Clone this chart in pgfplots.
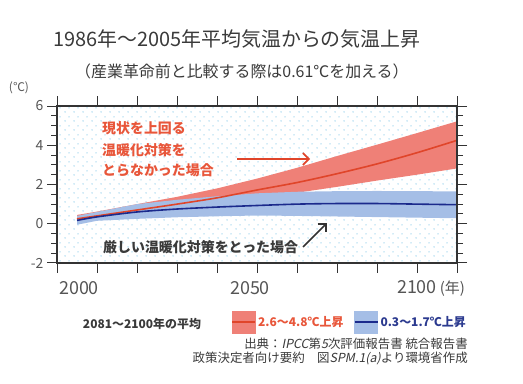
\documentclass[border=0pt]{standalone}
\usepackage{fontspec}
\setmainfont{Noto Sans CJK JP}
\newfontfamily\cjkit{Noto Sans CJK JP}[FakeSlant=0.2]
\usepackage{pgfplots}
\pgfplotsset{compat=1.18}
\usepgfplotslibrary{fillbetween}
\usetikzlibrary{patterns,arrows.meta}

\definecolor{redband}{HTML}{EF8077}
\definecolor{redline}{HTML}{E0452A}
\definecolor{blueband}{HTML}{A5BEE6}
\definecolor{blueline}{HTML}{1B2A8C}
\definecolor{redtext}{HTML}{E8563A}
\definecolor{bluetext}{HTML}{2B3A8F}
\definecolor{graytext}{HTML}{3A3A3A}
\definecolor{ticktext}{HTML}{555555}
\definecolor{axiscol}{HTML}{333333}
\definecolor{dotblue}{HTML}{A6D6EE}

\pgfdeclarepatternformonly{mydots}{\pgfpointorigin}{\pgfpoint{9bp}{9bp}}{\pgfpoint{9bp}{9bp}}{%
  \pgfpathcircle{\pgfpoint{2.25bp}{2.25bp}}{0.85bp}%
  \pgfpathcircle{\pgfpoint{6.75bp}{6.75bp}}{0.85bp}%
  \pgfusepath{fill}}

\pgfplotstableread{
year mean top bot
2005 0.25 0.45 0.05
2010 0.40 0.62 0.22
2020 0.70 1.00 0.45
2030 1.00 1.37 0.74
2040 1.32 1.80 1.00
2050 1.72 2.30 1.30
2060 2.10 2.85 1.58
2070 2.55 3.45 1.88
2080 3.05 4.03 2.20
2090 3.62 4.62 2.50
2100 4.25 5.22 2.82
}\rcpeight

\pgfplotstableread{
year mean top bot
2005 0.17 0.40 -0.05
2010 0.35 0.60 0.15
2020 0.60 1.00 0.25
2030 0.75 1.22 0.33
2040 0.85 1.40 0.38
2050 0.93 1.55 0.42
2060 1.00 1.63 0.40
2070 1.03 1.66 0.37
2080 1.03 1.67 0.34
2090 1.00 1.66 0.31
2100 0.97 1.65 0.28
}\rcptwo

\begin{document}
\begin{tikzpicture}
\path (0,0) rectangle (523bp,384bp);

\begin{axis}[
  scale only axis,
  width=400bp, height=157bp,
  at={(57bp,121bp)}, anchor=south west,
  xmin=2000, xmax=2100, ymin=-2, ymax=6,
  xtick={2000,2010,...,2100}, xticklabels={},
  ytick={-2,0,...,6}, minor y tick num=3,
  tick align=outside,
  major tick length=10bp, minor tick length=6bp,
  tick style={color=axiscol, line width=1bp},
  axis line style={axiscol, line width=1.2bp},
  /pgf/number format/assume math mode=true,
  yticklabel style={font=\fontsize{14}{14}\selectfont, text=ticktext},
  axis on top,
  axis background/.style={pattern=mydots, pattern color=dotblue},
  legend columns=2,
  legend style={draw=none, fill=none, at={(axis description cs:0.4275,-0.376)}, anchor=west,
    font=\bfseries\fontsize{12}{12}\selectfont,
    /tikz/every even column/.append style={column sep=8bp}},
  legend cell align=left,
]
\addplot[name path=rt, draw=none, forget plot] table[x=year,y=top] {\rcpeight};
\addplot[name path=rb, draw=none, forget plot] table[x=year,y=bot] {\rcpeight};
\addplot[fill=redband, draw=none, forget plot] fill between[of=rt and rb];
\addplot[name path=bt, draw=none, forget plot] table[x=year,y=top] {\rcptwo};
\addplot[name path=bb, draw=none, forget plot] table[x=year,y=bot] {\rcptwo};
\addplot[fill=blueband, draw=none, forget plot] fill between[of=bt and bb];
\addplot[redline, line width=1.6bp, smooth, forget plot] table[x=year,y=mean] {\rcpeight};
\addplot[blueline, line width=1.6bp, smooth, forget plot] table[x=year,y=mean] {\rcptwo};

\addlegendimage{legend image code/.code={
  \fill[redband] (0bp,-11bp) rectangle (23bp,11bp);
  \draw[redline, line width=2bp] (0bp,0bp) -- (23bp,0bp);}}
\addlegendentry{\textcolor{redtext}{2.6～4.8℃上昇}}
\addlegendimage{legend image code/.code={
  \fill[blueband] (0bp,-11bp) rectangle (23bp,11bp);
  \draw[blueline, line width=2bp] (0bp,0bp) -- (23bp,0bp);}}
\addlegendentry{\textcolor{bluetext}{0.3～1.7℃上昇}}
\end{axis}

% titles
\node[anchor=west, text=graytext, font=\fontsize{20}{20}\selectfont, inner sep=0] at (53bp,345bp) {1986年～2005年平均気温からの気温上昇};
\node[anchor=west, text=graytext, font=\fontsize{16}{16}\selectfont, inner sep=0] at (75bp,313bp) {（産業革命前と比較する際は0.61℃を加える）};
\node[text=ticktext, font=\fontsize{12}{12}\selectfont, inner sep=0] at (19bp,296bp) {(℃)};

% x tick labels
\node[text=ticktext, font=\fontsize{18}{18}\selectfont, inner sep=0] at (79bp,96bp) {2000};
\node[text=ticktext, font=\fontsize{18}{18}\selectfont, inner sep=0] at (250bp,96bp) {2050};
\node[text=ticktext, font=\fontsize{18}{18}\selectfont, inner sep=0] at (431bp,96bp) {2100\,{\fontsize{15}{15}\selectfont (年)}};

% annotations
\node[anchor=west, text=redtext, font=\bfseries\fontsize{14}{14}\selectfont, inner sep=0] at (102bp,256bp) {現状を上回る};
\node[anchor=west, text=redtext, font=\bfseries\fontsize{14}{14}\selectfont, inner sep=0] at (102bp,234bp) {温暖化対策を};
\node[anchor=west, text=redtext, font=\bfseries\fontsize{14}{14}\selectfont, inner sep=0] at (102bp,214bp) {とらなかった場合};
\draw[redline, line width=1.6bp, -{Straight Barb[length=6bp,width=12bp]}] (237bp,225bp) -- (310bp,225bp);

\node[anchor=west, text=graytext, font=\bfseries\fontsize{14}{14}\selectfont, inner sep=0] at (103bp,137bp) {厳しい温暖化対策をとった場合};
\draw[axiscol, line width=1.6bp, -{Straight Barb[length=6bp,width=12bp]}] (303bp,137bp) -- (327bp,161bp);

% legend label and source
\node[text=graytext, font=\bfseries\fontsize{12}{12}\selectfont, inner sep=0] at (142bp,60bp) {2081～2100年の平均};
\node[anchor=east, text=graytext, font=\fontsize{12.5}{12.5}\selectfont, inner sep=0] at (468bp,40bp) {出典：{\cjkit IPCC}第{\cjkit 5}次評価報告書 統合報告書};
\node[anchor=east, text=graytext, font=\fontsize{12.5}{12.5}\selectfont, inner sep=0] at (468bp,26bp) {政策決定者向け要約　図{\cjkit SPM.1(a)}より環境省作成};
\end{tikzpicture}
\end{document}
